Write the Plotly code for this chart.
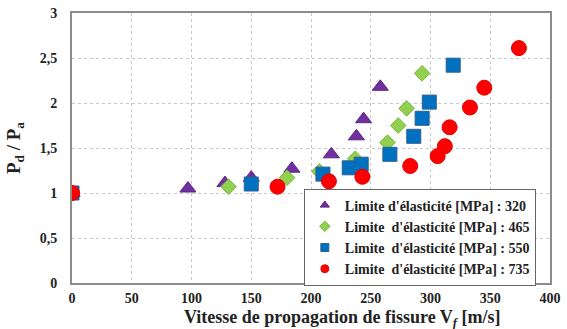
import plotly.graph_objs as go

# Limite d'elasticite 320 MPa
x_320 = [0, 97, 128, 150, 184, 217, 238, 244, 258]
y_320 = [1, 1.05, 1.11, 1.17, 1.27, 1.43, 1.63, 1.82, 2.18]

# 465 MPa
x_465 = [0, 131, 180, 207, 237, 264, 273, 280, 293]
y_465 = [1, 1.07, 1.17, 1.24, 1.38, 1.56, 1.75, 1.94, 2.33]

# 550 MPa
x_550 = [0, 150, 210, 232, 242, 266, 286, 293, 299, 319]
y_550 = [1, 1.10, 1.21, 1.28, 1.32, 1.43, 1.63, 1.83, 2.01, 2.42]

# 735 MPa
x_735 = [0, 172, 215, 243, 283, 306, 312, 316, 333, 345, 374]
y_735 = [1, 1.07, 1.13, 1.18, 1.30, 1.41, 1.52, 1.73, 1.95, 2.17, 2.61]

x_ticks = [0, 50, 100, 150, 200, 250, 300, 350, 400]
x_labels = ['0', '50', '100', '150', '200', '250', '300', '350', '400']
y_ticks = [0, 0.5, 1, 1.5, 2, 2.5, 3]
y_labels = ['0', '0,5', '1', '1,5', '2', '2,5', '3']

names = ["Limite d'élasticité [MPa] : 320",
         "Limite\u00a0 d'élasticité [MPa] : 465",
         "Limite\u00a0 d'élasticité [MPa] : 550",
         "Limite\u00a0 d'élasticité [MPa] : 735"]

font = 'Liberation Serif'
bold = dict(family=font, weight='bold', color='#222222')

series = [
    (x_320, y_320, 'triangle-up', 14, '#7030A0', '#5B2380'),
    (x_465, y_465, 'diamond', 12, '#92D050', '#7CB342'),
    (x_550, y_550, 'square', 14, '#0070C0', '#2F5F8F'),
    (x_735, y_735, 'circle', 15, '#FF0000', '#E00000'),
]

data = []
for (xs, ys, sym, sz, col, edge), nm in zip(series, names):
    data.append(go.Scatter(x=xs, y=ys, mode='markers', name=nm, showlegend=False,
                           marker=dict(symbol=sym, size=sz, color=col,
                                       line=dict(color=edge, width=1))))
# small legend markers, as in the original
for (xs, ys, sym, sz, col, edge), nm in zip(series, names):
    data.append(go.Scatter(x=[None], y=[None], mode='markers', name='<b>' + nm + '</b>',
                           marker=dict(symbol=sym, size=8, color=col,
                                       line=dict(color=edge, width=1))))

layout = go.Layout(
    width=567, height=329,
    margin=dict(l=72, r=17, t=13, b=46),
    paper_bgcolor='white', plot_bgcolor='white',
    font=dict(family=font, color='#222222'),
    xaxis=dict(range=[0, 400], tickvals=x_ticks,
               ticktext=['<b>' + t + '</b>' for t in x_labels]),
    yaxis=dict(range=[0, 3], tickvals=y_ticks,
               ticktext=['<b>' + t + '</b>' for t in y_labels],
               title=dict(text='<b>P<sub>d</sub> / P<sub>a</sub></b>',
                          font=dict(bold, size=19), standoff=14)),
    legend=dict(x=0.485, y=0.35, xanchor='left', yanchor='top',
                bgcolor='white', bordercolor='#666666', borderwidth=1,
                font=dict(bold, size=14),
                itemsizing='trace', tracegroupgap=0, itemwidth=30),
    annotations=[dict(text='<b>Vitesse de propagation de fissure V<sub><i>f</i></sub> [m/s]</b>',
                      xref='paper', yref='paper', x=0.565, y=-0.132,
                      xanchor='center', yanchor='middle', showarrow=False,
                      font=dict(bold, size=18))],
)

fig = go.Figure(data=data, layout=layout)
fig.update_xaxes(showline=True, linecolor='#8c8c8c', linewidth=2, mirror=True,
                 showgrid=True, gridcolor='#c8c8c8', griddash='dot', gridwidth=1,
                 zeroline=False, ticks='', automargin=False, ticklabelstandoff=1,
                 tickfont=dict(family=font, size=14, color='#222222'))
fig.update_yaxes(showline=True, linecolor='#8c8c8c', linewidth=2, mirror=True,
                 showgrid=True, gridcolor='#c8c8c8', griddash='dot', gridwidth=1,
                 zeroline=False, ticks='', automargin=False, ticklabelstandoff=10,
                 tickfont=dict(family=font, size=14, color='#222222'))
fig.write_html("out.html", config={'displayModeBar': False},
               post_script="document.body.style.margin='0';")
